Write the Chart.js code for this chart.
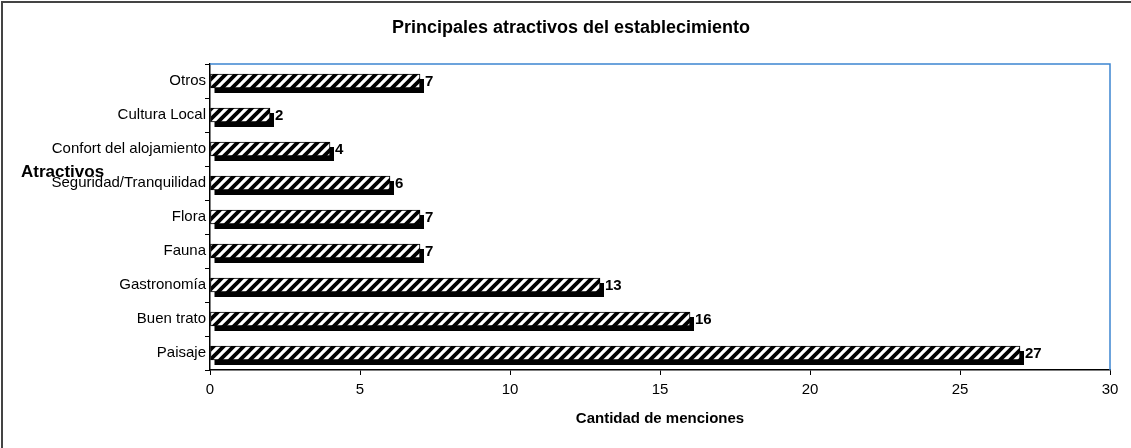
<!DOCTYPE html>
<html>
<head>
<meta charset="utf-8">
<script src="https://cdn.jsdelivr.net/npm/chart.js@4/dist/chart.umd.min.js"></script>
<style>
  html, body { margin: 0; padding: 0; background: #fff; }
  #wrap { width: 1131px; height: 448px; position: relative; }
</style>
</head>
<body>
<div id="wrap"><canvas id="c" width="1131" height="448"></canvas></div>
<script>
// Attractions of the establishment, listed top to bottom
const categories = [
  'Otros',
  'Cultura Local',
  'Confort del alojamiento',
  'Seguridad/Tranquilidad',
  'Flora',
  'Fauna',
  'Gastronomía',
  'Buen trato',
  'Paisaje'
];
const mentions = [7, 2, 4, 6, 7, 7, 13, 16, 27];
const xTickMin = 0;
const xTickMax = 30;
const xTickStep = 5;

const chartTitle = 'Principales atractivos del establecimiento';
const yAxisTitle = 'Atractivos';
const xAxisTitle = 'Cantidad de menciones';

const FONT = '"Liberation Sans", Arial, Helvetica, sans-serif';
const BLUE = '#3d85d1';

// Diagonal hatch fill for the bars
function makeHatch() {
  const s = 10;
  const p = document.createElement('canvas');
  p.width = s; p.height = s;
  const g = p.getContext('2d');
  g.fillStyle = '#fff';
  g.fillRect(0, 0, s, s);
  g.strokeStyle = '#000';
  g.lineWidth = 3.8;
  g.lineCap = 'square';
  const seg = (x0, y0, x1, y1) => { g.beginPath(); g.moveTo(x0, y0); g.lineTo(x1, y1); g.stroke(); };
  seg(0, s, s, 0);
  seg(-s / 2, s / 2, s / 2, -s / 2);
  seg(s / 2, s * 1.5, s * 1.5, s / 2);
  return g.createPattern(p, 'repeat');
}

// Solid offset block behind each bar
const barShadow = {
  id: 'barShadow',
  beforeDatasetsDraw(chart) {
    const ctx = chart.ctx;
    const meta = chart.getDatasetMeta(0);
    ctx.save();
    ctx.fillStyle = '#000';
    meta.data.forEach(bar => {
      const p = bar.getProps(['x', 'y', 'base', 'height'], true);
      ctx.fillRect(p.base + 4, p.y - p.height / 2 + 5, p.x - p.base, p.height);
    });
    ctx.restore();
  }
};

// Value printed at the end of each bar
const valueLabels = {
  id: 'valueLabels',
  afterDatasetsDraw(chart) {
    const ctx = chart.ctx;
    const meta = chart.getDatasetMeta(0);
    const values = chart.data.datasets[0].data;
    ctx.save();
    ctx.fillStyle = '#000';
    ctx.font = 'bold 15px ' + FONT;
    ctx.textAlign = 'left';
    ctx.textBaseline = 'middle';
    meta.data.forEach((bar, i) => {
      const p = bar.getProps(['x', 'y'], true);
      ctx.fillText(String(values[i]), p.x + 5, p.y + 1);
    });
    ctx.restore();
  }
};

// Plot frame, outer frame and titles
const decorations = {
  id: 'decorations',
  beforeDraw(chart) {
    const ctx = chart.ctx;
    ctx.save();
    ctx.fillStyle = '#fff';
    ctx.fillRect(0, 0, chart.width, chart.height);
    ctx.strokeStyle = '#444';
    ctx.lineWidth = 2;
    ctx.beginPath();
    ctx.moveTo(2, chart.height);
    ctx.lineTo(2, 2);
    ctx.lineTo(chart.width, 2);
    ctx.stroke();
    ctx.restore();
  },
  beforeDatasetsDraw(chart) {
    const ctx = chart.ctx;
    const a = chart.chartArea;
    ctx.save();
    ctx.strokeStyle = BLUE;
    ctx.lineWidth = 1.5;
    ctx.beginPath();
    ctx.moveTo(a.left, a.top);
    ctx.lineTo(a.right, a.top);
    ctx.lineTo(a.right, a.bottom);
    ctx.stroke();
    ctx.restore();
  },
  afterDraw(chart) {
    const ctx = chart.ctx;
    const a = chart.chartArea;
    ctx.save();
    ctx.fillStyle = '#000';
    ctx.textBaseline = 'middle';
    ctx.textAlign = 'center';
    ctx.font = 'bold 18px ' + FONT;
    ctx.fillText(chartTitle, 571, 28);
    ctx.font = 'bold 15px ' + FONT;
    ctx.fillText(xAxisTitle, (a.left + a.right) / 2, 419);
    ctx.textAlign = 'left';
    ctx.font = 'bold 17px ' + FONT;
    ctx.fillText(yAxisTitle, 21, 172);
    ctx.restore();
  }
};

new Chart(document.getElementById('c'), {
  type: 'bar',
  data: {
    labels: categories,
    datasets: [{
      data: mentions,
      backgroundColor: makeHatch(),
      borderColor: '#000',
      borderWidth: 1,
      borderSkipped: false,
      barThickness: 14
    }]
  },
  options: {
    indexAxis: 'y',
    responsive: false,
    animation: false,
    events: [],
    layout: { padding: { top: 64, right: 21, left: 0, bottom: 0 } },
    plugins: {
      legend: { display: false },
      title: { display: false },
      tooltip: { enabled: false }
    },
    scales: {
      x: {
        min: xTickMin,
        max: xTickMax,
        ticks: {
          stepSize: xTickStep,
          color: '#000',
          font: { family: FONT, size: 15 },
          padding: 6
        },
        grid: {
          drawOnChartArea: false,
          drawTicks: true,
          tickLength: 5,
          color: '#000'
        },
        border: { color: '#000', width: 1.5 },
        afterFit(s) { s.height = 78; }
      },
      y: {
        ticks: {
          color: '#000',
          font: { family: FONT, size: 15 },
          padding: -1
        },
        grid: {
          drawOnChartArea: false,
          drawTicks: true,
          tickLength: 5,
          color: '#000',
          offset: true
        },
        border: { color: '#000', width: 1.5 },
        afterFit(s) { s.width = 210; }
      }
    }
  },
  plugins: [decorations, barShadow, valueLabels]
});
</script>
</body>
</html>
